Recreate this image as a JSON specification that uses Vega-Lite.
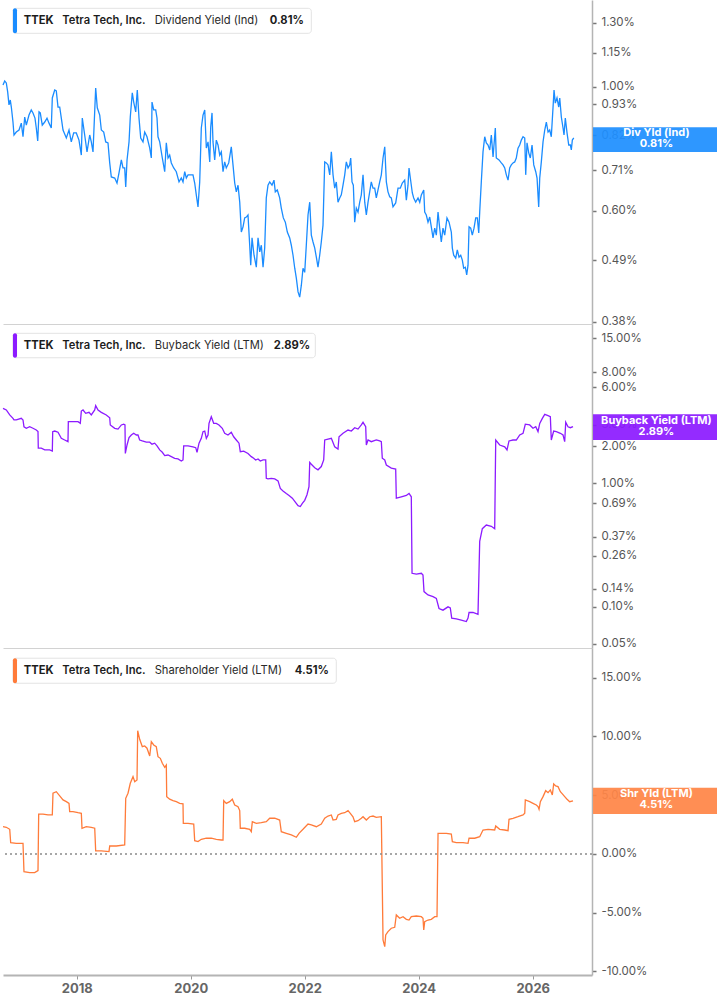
{
"$schema": "https://vega.github.io/schema/vega-lite/v6.json",
"padding": 0,
"background": "white",
"bounds": "flush",
"spacing": 0,
"config": {
  "view": {"stroke": null},
  "font": "Inter",
  "axis": {"grid": false},
  "axisY": {"domainColor": "#b4b4b4", "domainWidth": 1.5, "tickColor": "#777777", "tickSize": 4, "tickWidth": 1.5, "labelColor": "#555555", "labelFontSize": 11.5, "labelPadding": 5, "labelFont": "Inter"}
},
"datasets": {
"dividend": [
{"year":2016.707,"pct":1.007},{"year":2016.737,"pct":1.024},{"year":2016.765,"pct":1.016},{"year":2016.789,"pct":0.979},{"year":2016.812,"pct":0.928},{"year":2016.835,"pct":0.947},{"year":2016.853,"pct":0.920},{"year":2016.882,"pct":0.865},{"year":2016.900,"pct":0.820},{"year":2016.940,"pct":0.830},{"year":2016.988,"pct":0.837},{"year":2017.028,"pct":0.861},{"year":2017.058,"pct":0.814},{"year":2017.088,"pct":0.883},{"year":2017.116,"pct":0.854},{"year":2017.163,"pct":0.890},{"year":2017.203,"pct":0.909},{"year":2017.233,"pct":0.898},{"year":2017.268,"pct":0.879},{"year":2017.291,"pct":0.844},{"year":2017.316,"pct":0.800},{"year":2017.339,"pct":0.902},{"year":2017.361,"pct":0.898},{"year":2017.396,"pct":0.854},{"year":2017.439,"pct":0.865},{"year":2017.479,"pct":0.879},{"year":2017.514,"pct":0.861},{"year":2017.554,"pct":0.844},{"year":2017.572,"pct":0.955},{"year":2017.614,"pct":0.987},{"year":2017.642,"pct":0.983},{"year":2017.672,"pct":0.920},{"year":2017.702,"pct":0.920},{"year":2017.730,"pct":0.879},{"year":2017.760,"pct":0.837},{"year":2017.818,"pct":0.810},{"year":2017.865,"pct":0.837},{"year":2017.905,"pct":0.797},{"year":2017.947,"pct":0.827},{"year":2017.993,"pct":0.827},{"year":2018.040,"pct":0.803},{"year":2018.081,"pct":0.755},{"year":2018.098,"pct":0.879},{"year":2018.140,"pct":0.820},{"year":2018.181,"pct":0.765},{"year":2018.228,"pct":0.820},{"year":2018.256,"pct":0.797},{"year":2018.286,"pct":0.765},{"year":2018.333,"pct":0.995},{"year":2018.361,"pct":0.917},{"year":2018.404,"pct":0.890},{"year":2018.432,"pct":0.837},{"year":2018.474,"pct":0.830},{"year":2018.509,"pct":0.797},{"year":2018.549,"pct":0.794},{"year":2018.579,"pct":0.731},{"year":2018.607,"pct":0.690},{"year":2018.667,"pct":0.687},{"year":2018.707,"pct":0.673},{"year":2018.742,"pct":0.702},{"year":2018.783,"pct":0.740},{"year":2018.812,"pct":0.716},{"year":2018.842,"pct":0.716},{"year":2018.860,"pct":0.662},{"year":2018.883,"pct":0.740},{"year":2018.918,"pct":0.797},{"year":2018.940,"pct":0.883},{"year":2018.975,"pct":0.975},{"year":2019.000,"pct":0.939},{"year":2019.035,"pct":0.902},{"year":2019.063,"pct":0.987},{"year":2019.093,"pct":0.879},{"year":2019.123,"pct":0.810},{"year":2019.163,"pct":0.797},{"year":2019.193,"pct":0.830},{"year":2019.233,"pct":0.814},{"year":2019.281,"pct":0.777},{"year":2019.309,"pct":0.746},{"year":2019.321,"pct":0.939},{"year":2019.351,"pct":0.909},{"year":2019.386,"pct":0.909},{"year":2019.409,"pct":0.879},{"year":2019.426,"pct":0.814},{"year":2019.456,"pct":0.797},{"year":2019.502,"pct":0.746},{"year":2019.544,"pct":0.705},{"year":2019.572,"pct":0.794},{"year":2019.602,"pct":0.746},{"year":2019.631,"pct":0.755},{"year":2019.660,"pct":0.731},{"year":2019.702,"pct":0.716},{"year":2019.747,"pct":0.705},{"year":2019.795,"pct":0.676},{"year":2019.835,"pct":0.687},{"year":2019.865,"pct":0.676},{"year":2019.895,"pct":0.705},{"year":2019.923,"pct":0.687},{"year":2019.953,"pct":0.696},{"year":2019.993,"pct":0.696},{"year":2020.040,"pct":0.696},{"year":2020.070,"pct":0.673},{"year":2020.098,"pct":0.641},{"year":2020.128,"pct":0.610},{"year":2020.158,"pct":0.676},{"year":2020.186,"pct":0.844},{"year":2020.216,"pct":0.890},{"year":2020.246,"pct":0.909},{"year":2020.274,"pct":0.777},{"year":2020.304,"pct":0.797},{"year":2020.334,"pct":0.734},{"year":2020.351,"pct":0.847},{"year":2020.374,"pct":0.898},{"year":2020.391,"pct":0.797},{"year":2020.421,"pct":0.740},{"year":2020.449,"pct":0.803},{"year":2020.479,"pct":0.787},{"year":2020.509,"pct":0.755},{"year":2020.537,"pct":0.765},{"year":2020.567,"pct":0.705},{"year":2020.596,"pct":0.734},{"year":2020.624,"pct":0.716},{"year":2020.667,"pct":0.731},{"year":2020.695,"pct":0.762},{"year":2020.712,"pct":0.781},{"year":2020.742,"pct":0.725},{"year":2020.772,"pct":0.673},{"year":2020.800,"pct":0.649},{"year":2020.830,"pct":0.667},{"year":2020.860,"pct":0.622},{"year":2020.888,"pct":0.550},{"year":2020.918,"pct":0.562},{"year":2020.947,"pct":0.583},{"year":2020.976,"pct":0.585},{"year":2021.005,"pct":0.590},{"year":2021.035,"pct":0.521},{"year":2021.053,"pct":0.480},{"year":2021.076,"pct":0.537},{"year":2021.111,"pct":0.500},{"year":2021.151,"pct":0.476},{"year":2021.181,"pct":0.537},{"year":2021.211,"pct":0.507},{"year":2021.239,"pct":0.521},{"year":2021.269,"pct":0.476},{"year":2021.298,"pct":0.515},{"year":2021.326,"pct":0.633},{"year":2021.356,"pct":0.667},{"year":2021.386,"pct":0.676},{"year":2021.426,"pct":0.667},{"year":2021.461,"pct":0.681},{"year":2021.484,"pct":0.649},{"year":2021.519,"pct":0.654},{"year":2021.561,"pct":0.633},{"year":2021.589,"pct":0.607},{"year":2021.625,"pct":0.583},{"year":2021.660,"pct":0.573},{"year":2021.695,"pct":0.550},{"year":2021.737,"pct":0.537},{"year":2021.765,"pct":0.521},{"year":2021.795,"pct":0.500},{"year":2021.825,"pct":0.474},{"year":2021.853,"pct":0.455},{"year":2021.883,"pct":0.430},{"year":2021.912,"pct":0.421},{"year":2021.941,"pct":0.442},{"year":2021.970,"pct":0.474},{"year":2022.000,"pct":0.466},{"year":2022.028,"pct":0.521},{"year":2022.058,"pct":0.590},{"year":2022.088,"pct":0.622},{"year":2022.116,"pct":0.543},{"year":2022.146,"pct":0.528},{"year":2022.176,"pct":0.515},{"year":2022.204,"pct":0.496},{"year":2022.233,"pct":0.476},{"year":2022.263,"pct":0.500},{"year":2022.291,"pct":0.528},{"year":2022.321,"pct":0.566},{"year":2022.351,"pct":0.734},{"year":2022.379,"pct":0.731},{"year":2022.409,"pct":0.725},{"year":2022.439,"pct":0.696},{"year":2022.467,"pct":0.765},{"year":2022.497,"pct":0.696},{"year":2022.526,"pct":0.659},{"year":2022.554,"pct":0.676},{"year":2022.584,"pct":0.622},{"year":2022.614,"pct":0.633},{"year":2022.642,"pct":0.641},{"year":2022.672,"pct":0.667},{"year":2022.702,"pct":0.696},{"year":2022.730,"pct":0.734},{"year":2022.760,"pct":0.716},{"year":2022.789,"pct":0.725},{"year":2022.807,"pct":0.746},{"year":2022.830,"pct":0.676},{"year":2022.853,"pct":0.667},{"year":2022.877,"pct":0.573},{"year":2022.905,"pct":0.607},{"year":2022.935,"pct":0.597},{"year":2022.965,"pct":0.622},{"year":2022.993,"pct":0.641},{"year":2023.023,"pct":0.696},{"year":2023.053,"pct":0.622},{"year":2023.081,"pct":0.590},{"year":2023.111,"pct":0.622},{"year":2023.140,"pct":0.649},{"year":2023.168,"pct":0.676},{"year":2023.198,"pct":0.659},{"year":2023.228,"pct":0.659},{"year":2023.256,"pct":0.633},{"year":2023.286,"pct":0.654},{"year":2023.316,"pct":0.676},{"year":2023.344,"pct":0.696},{"year":2023.374,"pct":0.746},{"year":2023.404,"pct":0.781},{"year":2023.432,"pct":0.676},{"year":2023.461,"pct":0.649},{"year":2023.491,"pct":0.636},{"year":2023.519,"pct":0.633},{"year":2023.549,"pct":0.610},{"year":2023.596,"pct":0.620},{"year":2023.637,"pct":0.659},{"year":2023.677,"pct":0.659},{"year":2023.712,"pct":0.673},{"year":2023.754,"pct":0.681},{"year":2023.783,"pct":0.627},{"year":2023.812,"pct":0.667},{"year":2023.830,"pct":0.716},{"year":2023.853,"pct":0.687},{"year":2023.888,"pct":0.646},{"year":2023.912,"pct":0.633},{"year":2023.947,"pct":0.622},{"year":2023.988,"pct":0.633},{"year":2024.018,"pct":0.622},{"year":2024.046,"pct":0.641},{"year":2024.088,"pct":0.654},{"year":2024.105,"pct":0.597},{"year":2024.133,"pct":0.590},{"year":2024.163,"pct":0.573},{"year":2024.193,"pct":0.585},{"year":2024.221,"pct":0.562},{"year":2024.251,"pct":0.537},{"year":2024.281,"pct":0.559},{"year":2024.309,"pct":0.543},{"year":2024.339,"pct":0.597},{"year":2024.368,"pct":0.559},{"year":2024.396,"pct":0.528},{"year":2024.426,"pct":0.559},{"year":2024.456,"pct":0.543},{"year":2024.496,"pct":0.583},{"year":2024.532,"pct":0.573},{"year":2024.572,"pct":0.550},{"year":2024.590,"pct":0.515},{"year":2024.614,"pct":0.500},{"year":2024.649,"pct":0.494},{"year":2024.677,"pct":0.511},{"year":2024.707,"pct":0.496},{"year":2024.737,"pct":0.500},{"year":2024.765,"pct":0.490},{"year":2024.789,"pct":0.474},{"year":2024.818,"pct":0.476},{"year":2024.842,"pct":0.461},{"year":2024.865,"pct":0.480},{"year":2024.883,"pct":0.562},{"year":2024.912,"pct":0.559},{"year":2024.940,"pct":0.543},{"year":2024.970,"pct":0.559},{"year":2025.000,"pct":0.583},{"year":2025.028,"pct":0.583},{"year":2025.053,"pct":0.548},{"year":2025.070,"pct":0.597},{"year":2025.098,"pct":0.676},{"year":2025.128,"pct":0.765},{"year":2025.158,"pct":0.814},{"year":2025.186,"pct":0.794},{"year":2025.216,"pct":0.787},{"year":2025.246,"pct":0.771},{"year":2025.274,"pct":0.820},{"year":2025.304,"pct":0.749},{"year":2025.344,"pct":0.844},{"year":2025.361,"pct":0.746},{"year":2025.409,"pct":0.740},{"year":2025.449,"pct":0.731},{"year":2025.479,"pct":0.725},{"year":2025.509,"pct":0.716},{"year":2025.537,"pct":0.696},{"year":2025.567,"pct":0.681},{"year":2025.596,"pct":0.716},{"year":2025.624,"pct":0.725},{"year":2025.654,"pct":0.731},{"year":2025.684,"pct":0.734},{"year":2025.712,"pct":0.746},{"year":2025.742,"pct":0.777},{"year":2025.772,"pct":0.787},{"year":2025.800,"pct":0.803},{"year":2025.830,"pct":0.814},{"year":2025.860,"pct":0.810},{"year":2025.877,"pct":0.696},{"year":2025.900,"pct":0.794},{"year":2025.930,"pct":0.762},{"year":2025.958,"pct":0.746},{"year":2025.988,"pct":0.787},{"year":2026.018,"pct":0.725},{"year":2026.053,"pct":0.705},{"year":2026.076,"pct":0.687},{"year":2026.105,"pct":0.610},{"year":2026.123,"pct":0.687},{"year":2026.151,"pct":0.734},{"year":2026.181,"pct":0.797},{"year":2026.211,"pct":0.837},{"year":2026.239,"pct":0.865},{"year":2026.269,"pct":0.830},{"year":2026.298,"pct":0.837},{"year":2026.326,"pct":0.814},{"year":2026.356,"pct":0.917},{"year":2026.374,"pct":0.987},{"year":2026.396,"pct":0.935},{"year":2026.426,"pct":0.955},{"year":2026.456,"pct":0.920},{"year":2026.474,"pct":0.955},{"year":2026.502,"pct":0.883},{"year":2026.532,"pct":0.844},{"year":2026.549,"pct":0.820},{"year":2026.572,"pct":0.879},{"year":2026.602,"pct":0.827},{"year":2026.632,"pct":0.787},{"year":2026.660,"pct":0.787},{"year":2026.677,"pct":0.771},{"year":2026.695,"pct":0.803},{"year":2026.720,"pct":0.810}
],
"buyback": [
{"year":2016.707,"pct":4.06},{"year":2016.765,"pct":3.94},{"year":2016.825,"pct":3.59},{"year":2016.882,"pct":3.37},{"year":2016.900,"pct":3.27},{"year":2016.940,"pct":3.27},{"year":2017.028,"pct":3.37},{"year":2017.058,"pct":3.27},{"year":2017.075,"pct":2.88},{"year":2017.116,"pct":2.80},{"year":2017.175,"pct":2.88},{"year":2017.233,"pct":2.80},{"year":2017.291,"pct":2.71},{"year":2017.321,"pct":2.63},{"year":2017.326,"pct":1.93},{"year":2017.379,"pct":1.93},{"year":2017.439,"pct":1.87},{"year":2017.526,"pct":1.87},{"year":2017.572,"pct":1.83},{"year":2017.579,"pct":2.63},{"year":2017.614,"pct":2.66},{"year":2017.672,"pct":2.60},{"year":2017.730,"pct":2.32},{"year":2017.789,"pct":2.25},{"year":2017.847,"pct":2.18},{"year":2017.853,"pct":3.17},{"year":2017.935,"pct":3.17},{"year":2018.023,"pct":3.17},{"year":2018.063,"pct":3.07},{"year":2018.081,"pct":3.86},{"year":2018.111,"pct":3.94},{"year":2018.158,"pct":3.70},{"year":2018.216,"pct":3.77},{"year":2018.256,"pct":3.59},{"year":2018.316,"pct":3.94},{"year":2018.333,"pct":4.27},{"year":2018.374,"pct":3.94},{"year":2018.432,"pct":3.77},{"year":2018.519,"pct":3.59},{"year":2018.579,"pct":3.41},{"year":2018.589,"pct":2.98},{"year":2018.667,"pct":2.80},{"year":2018.725,"pct":2.76},{"year":2018.783,"pct":2.98},{"year":2018.825,"pct":3.02},{"year":2018.847,"pct":2.98},{"year":2018.853,"pct":1.75},{"year":2018.883,"pct":2.05},{"year":2018.918,"pct":2.35},{"year":2018.958,"pct":2.47},{"year":2019.000,"pct":2.55},{"year":2019.046,"pct":2.47},{"year":2019.075,"pct":2.47},{"year":2019.105,"pct":2.25},{"year":2019.151,"pct":2.21},{"year":2019.221,"pct":2.16},{"year":2019.281,"pct":2.16},{"year":2019.321,"pct":2.08},{"year":2019.368,"pct":2.12},{"year":2019.409,"pct":2.02},{"year":2019.456,"pct":1.87},{"year":2019.502,"pct":1.79},{"year":2019.544,"pct":1.68},{"year":2019.602,"pct":1.70},{"year":2019.660,"pct":1.65},{"year":2019.719,"pct":1.60},{"year":2019.777,"pct":1.58},{"year":2019.835,"pct":1.52},{"year":2019.865,"pct":1.55},{"year":2019.877,"pct":2.02},{"year":2019.953,"pct":2.02},{"year":2020.040,"pct":1.98},{"year":2020.088,"pct":1.95},{"year":2020.111,"pct":1.79},{"year":2020.146,"pct":2.12},{"year":2020.186,"pct":2.32},{"year":2020.216,"pct":2.63},{"year":2020.246,"pct":2.66},{"year":2020.274,"pct":2.32},{"year":2020.304,"pct":2.47},{"year":2020.321,"pct":3.07},{"year":2020.361,"pct":3.47},{"year":2020.403,"pct":3.07},{"year":2020.449,"pct":3.07},{"year":2020.496,"pct":2.98},{"year":2020.554,"pct":2.80},{"year":2020.596,"pct":2.55},{"year":2020.654,"pct":2.47},{"year":2020.712,"pct":2.60},{"year":2020.754,"pct":2.39},{"year":2020.800,"pct":2.25},{"year":2020.847,"pct":2.12},{"year":2020.870,"pct":1.81},{"year":2020.930,"pct":1.83},{"year":2021.005,"pct":1.75},{"year":2021.063,"pct":1.65},{"year":2021.105,"pct":1.60},{"year":2021.140,"pct":1.55},{"year":2021.181,"pct":1.58},{"year":2021.221,"pct":1.52},{"year":2021.269,"pct":1.55},{"year":2021.316,"pct":1.55},{"year":2021.326,"pct":1.10},{"year":2021.356,"pct":1.09},{"year":2021.414,"pct":1.10},{"year":2021.474,"pct":1.09},{"year":2021.532,"pct":1.05},{"year":2021.572,"pct":0.91},{"year":2021.619,"pct":0.87},{"year":2021.677,"pct":0.83},{"year":2021.725,"pct":0.80},{"year":2021.783,"pct":0.76},{"year":2021.842,"pct":0.70},{"year":2021.883,"pct":0.66},{"year":2021.923,"pct":0.65},{"year":2021.958,"pct":0.69},{"year":2022.000,"pct":0.73},{"year":2022.040,"pct":0.81},{"year":2022.075,"pct":0.94},{"year":2022.088,"pct":1.48},{"year":2022.116,"pct":1.43},{"year":2022.176,"pct":1.34},{"year":2022.233,"pct":1.29},{"year":2022.291,"pct":1.37},{"year":2022.333,"pct":1.55},{"year":2022.351,"pct":2.25},{"year":2022.409,"pct":2.29},{"year":2022.467,"pct":2.32},{"year":2022.526,"pct":1.98},{"year":2022.584,"pct":1.90},{"year":2022.602,"pct":2.39},{"year":2022.672,"pct":2.55},{"year":2022.760,"pct":2.71},{"year":2022.818,"pct":2.66},{"year":2022.877,"pct":2.83},{"year":2022.935,"pct":2.76},{"year":2022.993,"pct":2.98},{"year":2023.023,"pct":3.13},{"year":2023.070,"pct":2.88},{"year":2023.081,"pct":2.05},{"year":2023.111,"pct":2.25},{"year":2023.168,"pct":2.18},{"year":2023.256,"pct":2.25},{"year":2023.316,"pct":2.21},{"year":2023.344,"pct":2.18},{"year":2023.361,"pct":1.60},{"year":2023.404,"pct":1.55},{"year":2023.432,"pct":1.41},{"year":2023.519,"pct":1.33},{"year":2023.596,"pct":1.31},{"year":2023.607,"pct":0.76},{"year":2023.695,"pct":0.78},{"year":2023.783,"pct":0.80},{"year":2023.830,"pct":0.83},{"year":2023.870,"pct":0.78},{"year":2023.883,"pct":0.187},{"year":2023.958,"pct":0.184},{"year":2024.046,"pct":0.187},{"year":2024.075,"pct":0.181},{"year":2024.093,"pct":0.133},{"year":2024.163,"pct":0.125},{"year":2024.251,"pct":0.121},{"year":2024.309,"pct":0.117},{"year":2024.356,"pct":0.097},{"year":2024.426,"pct":0.094},{"year":2024.514,"pct":0.100},{"year":2024.554,"pct":0.098},{"year":2024.579,"pct":0.081},{"year":2024.660,"pct":0.080},{"year":2024.747,"pct":0.078},{"year":2024.835,"pct":0.076},{"year":2024.865,"pct":0.081},{"year":2024.883,"pct":0.090},{"year":2024.953,"pct":0.090},{"year":2025.040,"pct":0.087},{"year":2025.070,"pct":0.34},{"year":2025.116,"pct":0.43},{"year":2025.186,"pct":0.46},{"year":2025.274,"pct":0.45},{"year":2025.333,"pct":0.43},{"year":2025.351,"pct":2.25},{"year":2025.421,"pct":2.05},{"year":2025.509,"pct":1.98},{"year":2025.549,"pct":1.87},{"year":2025.584,"pct":2.21},{"year":2025.654,"pct":2.25},{"year":2025.712,"pct":2.25},{"year":2025.772,"pct":2.47},{"year":2025.830,"pct":2.55},{"year":2025.870,"pct":3.02},{"year":2025.947,"pct":2.98},{"year":2026.005,"pct":2.80},{"year":2026.053,"pct":2.88},{"year":2026.093,"pct":2.63},{"year":2026.123,"pct":3.07},{"year":2026.169,"pct":3.37},{"year":2026.211,"pct":3.63},{"year":2026.269,"pct":3.54},{"year":2026.309,"pct":3.47},{"year":2026.326,"pct":2.25},{"year":2026.368,"pct":2.66},{"year":2026.414,"pct":2.63},{"year":2026.485,"pct":2.55},{"year":2026.532,"pct":2.47},{"year":2026.561,"pct":2.18},{"year":2026.579,"pct":3.13},{"year":2026.619,"pct":2.88},{"year":2026.660,"pct":2.83},{"year":2026.707,"pct":2.89}
],
"shareholder": [
{"year":2016.707,"pct":2.32},{"year":2016.765,"pct":2.27},{"year":2016.825,"pct":2.10},{"year":2016.842,"pct":0.96},{"year":2016.940,"pct":0.91},{"year":2017.058,"pct":0.91},{"year":2017.075,"pct":-1.51},{"year":2017.175,"pct":-1.59},{"year":2017.263,"pct":-1.59},{"year":2017.321,"pct":-1.42},{"year":2017.333,"pct":3.40},{"year":2017.409,"pct":3.40},{"year":2017.496,"pct":3.32},{"year":2017.572,"pct":3.32},{"year":2017.584,"pct":5.17},{"year":2017.642,"pct":5.30},{"year":2017.702,"pct":4.94},{"year":2017.760,"pct":4.60},{"year":2017.818,"pct":4.45},{"year":2017.865,"pct":4.31},{"year":2017.877,"pct":3.60},{"year":2017.935,"pct":3.60},{"year":2018.023,"pct":3.51},{"year":2018.081,"pct":3.46},{"year":2018.093,"pct":2.19},{"year":2018.168,"pct":2.32},{"year":2018.256,"pct":2.27},{"year":2018.316,"pct":2.19},{"year":2018.333,"pct":0.26},{"year":2018.432,"pct":0.26},{"year":2018.567,"pct":0.20},{"year":2018.579,"pct":0.68},{"year":2018.695,"pct":0.68},{"year":2018.842,"pct":0.77},{"year":2018.860,"pct":4.74},{"year":2018.900,"pct":5.17},{"year":2018.940,"pct":6.02},{"year":2018.988,"pct":6.58},{"year":2019.018,"pct":6.15},{"year":2019.058,"pct":6.30},{"year":2019.070,"pct":10.49},{"year":2019.105,"pct":9.76},{"year":2019.151,"pct":9.13},{"year":2019.193,"pct":9.19},{"year":2019.233,"pct":9.00},{"year":2019.281,"pct":8.34},{"year":2019.309,"pct":9.56},{"year":2019.351,"pct":9.28},{"year":2019.396,"pct":9.13},{"year":2019.426,"pct":8.28},{"year":2019.467,"pct":8.14},{"year":2019.502,"pct":7.72},{"year":2019.544,"pct":7.38},{"year":2019.572,"pct":7.57},{"year":2019.579,"pct":4.88},{"year":2019.631,"pct":4.66},{"year":2019.689,"pct":4.54},{"year":2019.747,"pct":4.45},{"year":2019.807,"pct":4.31},{"year":2019.865,"pct":4.26},{"year":2019.870,"pct":2.61},{"year":2019.953,"pct":2.61},{"year":2020.053,"pct":2.55},{"year":2020.070,"pct":1.13},{"year":2020.128,"pct":1.05},{"year":2020.186,"pct":1.25},{"year":2020.274,"pct":1.34},{"year":2020.361,"pct":1.34},{"year":2020.449,"pct":1.25},{"year":2020.537,"pct":1.19},{"year":2020.567,"pct":1.19},{"year":2020.579,"pct":4.54},{"year":2020.624,"pct":4.31},{"year":2020.684,"pct":4.45},{"year":2020.730,"pct":4.66},{"year":2020.772,"pct":4.17},{"year":2020.830,"pct":4.03},{"year":2020.860,"pct":3.69},{"year":2020.870,"pct":2.19},{"year":2020.947,"pct":2.19},{"year":2021.035,"pct":2.10},{"year":2021.063,"pct":1.90},{"year":2021.081,"pct":2.75},{"year":2021.151,"pct":2.61},{"year":2021.239,"pct":2.66},{"year":2021.326,"pct":2.75},{"year":2021.386,"pct":3.04},{"year":2021.474,"pct":3.04},{"year":2021.561,"pct":2.89},{"year":2021.589,"pct":1.90},{"year":2021.677,"pct":1.76},{"year":2021.765,"pct":1.62},{"year":2021.853,"pct":1.42},{"year":2021.900,"pct":1.76},{"year":2021.970,"pct":2.10},{"year":2022.058,"pct":2.55},{"year":2022.116,"pct":2.47},{"year":2022.204,"pct":2.32},{"year":2022.291,"pct":2.55},{"year":2022.351,"pct":3.04},{"year":2022.409,"pct":3.23},{"year":2022.467,"pct":3.32},{"year":2022.497,"pct":2.89},{"year":2022.554,"pct":2.95},{"year":2022.584,"pct":3.32},{"year":2022.642,"pct":3.46},{"year":2022.702,"pct":3.51},{"year":2022.760,"pct":3.69},{"year":2022.800,"pct":3.46},{"year":2022.847,"pct":3.17},{"year":2022.877,"pct":2.75},{"year":2022.935,"pct":2.83},{"year":2022.993,"pct":3.04},{"year":2023.023,"pct":3.17},{"year":2023.081,"pct":2.89},{"year":2023.140,"pct":3.17},{"year":2023.198,"pct":3.23},{"year":2023.256,"pct":3.12},{"year":2023.344,"pct":3.17},{"year":2023.374,"pct":-7.32},{"year":2023.404,"pct":-7.89},{"year":2023.421,"pct":-6.89},{"year":2023.461,"pct":-6.61},{"year":2023.519,"pct":-6.32},{"year":2023.579,"pct":-6.24},{"year":2023.607,"pct":-5.19},{"year":2023.666,"pct":-5.47},{"year":2023.725,"pct":-5.34},{"year":2023.783,"pct":-5.56},{"year":2023.830,"pct":-5.62},{"year":2023.870,"pct":-5.34},{"year":2023.958,"pct":-5.28},{"year":2024.046,"pct":-5.34},{"year":2024.075,"pct":-5.47},{"year":2024.088,"pct":-6.47},{"year":2024.105,"pct":-5.76},{"year":2024.163,"pct":-5.62},{"year":2024.221,"pct":-5.56},{"year":2024.281,"pct":-5.34},{"year":2024.321,"pct":-5.34},{"year":2024.339,"pct":1.76},{"year":2024.397,"pct":1.76},{"year":2024.485,"pct":1.76},{"year":2024.572,"pct":1.70},{"year":2024.590,"pct":1.05},{"year":2024.660,"pct":0.96},{"year":2024.777,"pct":0.96},{"year":2024.865,"pct":0.91},{"year":2024.883,"pct":1.34},{"year":2024.982,"pct":1.34},{"year":2025.070,"pct":1.47},{"year":2025.128,"pct":2.04},{"year":2025.216,"pct":2.10},{"year":2025.333,"pct":2.04},{"year":2025.351,"pct":2.38},{"year":2025.421,"pct":2.10},{"year":2025.509,"pct":2.04},{"year":2025.567,"pct":1.98},{"year":2025.584,"pct":2.95},{"year":2025.654,"pct":3.04},{"year":2025.742,"pct":3.17},{"year":2025.830,"pct":3.32},{"year":2025.860,"pct":3.46},{"year":2025.870,"pct":4.60},{"year":2025.947,"pct":4.45},{"year":2026.005,"pct":4.31},{"year":2026.063,"pct":4.17},{"year":2026.093,"pct":4.03},{"year":2026.111,"pct":3.80},{"year":2026.134,"pct":4.45},{"year":2026.181,"pct":4.88},{"year":2026.228,"pct":5.39},{"year":2026.269,"pct":5.22},{"year":2026.309,"pct":5.45},{"year":2026.344,"pct":5.02},{"year":2026.368,"pct":5.96},{"year":2026.403,"pct":5.79},{"year":2026.444,"pct":5.73},{"year":2026.485,"pct":5.30},{"year":2026.520,"pct":5.11},{"year":2026.561,"pct":4.88},{"year":2026.602,"pct":4.66},{"year":2026.649,"pct":4.45},{"year":2026.707,"pct":4.51}
]
},
"vconcat": [
{
"width": 589, "height": 324,
"layer": [
 {"data": {"name": "dividend"},
  "mark": {"type": "line", "color": "#1a8cff", "strokeWidth": 1.3},
  "encoding": {
   "x": {"field": "year", "type": "quantitative", "title": null, "scale": {"domain": [2016.707, 2027.04], "nice": false, "zero": false}, "axis": {"labels": false, "ticks": false, "domainColor": "#d2d2d2", "domainWidth": 1}},
   "y": {"field": "pct", "type": "quantitative", "title": null, "scale": {"type": "log", "domain": [0.3768, 1.429], "nice": false}, "axis": {"orient": "right", "values": [0.38, 0.49, 0.6, 0.71, 0.82, 0.93, 1, 1.15, 1.3], "labelExpr": "format(datum.value, '.2f') + '%'"}}
  }},
 {"data": {"values": [{"ticker": "TTEK", "company": "Tetra Tech, Inc.", "metric": "Dividend Yield (Ind)", "last": "0.81%", "tag": "Div Yld (Ind)\n0.81%"}]},
  "layer": [
   {"mark": {"type": "rect", "fill": "white", "stroke": "#e3e3e3", "strokeWidth": 1, "cornerRadius": 3},
    "encoding": {"x": {"datum": 2016.882, "type": "quantitative", "title": null}, "x2": {"datum": 2022.116}, "y": {"datum": 1.381, "type": "quantitative", "title": null}, "y2": {"datum": 1.246}}},
   {"mark": {"type": "rect", "fill": "#1a8cff", "cornerRadius": 2},
    "encoding": {"x": {"datum": 2016.882, "type": "quantitative", "title": null}, "x2": {"datum": 2016.953}, "y": {"datum": 1.381, "type": "quantitative", "title": null}, "y2": {"datum": 1.246}}},
   {"mark": {"type": "text", "align": "left", "baseline": "middle", "fontSize": 11.2, "fontWeight": 700, "color": "#1c1c1c"},
    "encoding": {"x": {"datum": 2017.07, "type": "quantitative", "title": null}, "y": {"datum": 1.312, "type": "quantitative", "title": null}, "text": {"field": "ticker"}}},
   {"mark": {"type": "text", "align": "left", "baseline": "middle", "fontSize": 11.2, "fontWeight": 600, "color": "#1c1c1c"},
    "encoding": {"x": {"datum": 2017.747, "type": "quantitative", "title": null}, "y": {"datum": 1.312, "type": "quantitative", "title": null}, "text": {"field": "company"}}},
   {"mark": {"type": "text", "align": "left", "baseline": "middle", "fontSize": 11.2, "fontWeight": 400, "color": "#2a2a2a"},
    "encoding": {"x": {"datum": 2019.368, "type": "quantitative", "title": null}, "y": {"datum": 1.312, "type": "quantitative", "title": null}, "text": {"field": "metric"}}},
   {"mark": {"type": "text", "align": "left", "baseline": "middle", "fontSize": 11.2, "fontWeight": 700, "color": "#1c1c1c"},
    "encoding": {"x": {"datum": 2021.386, "type": "quantitative", "title": null}, "y": {"datum": 1.312, "type": "quantitative", "title": null}, "text": {"field": "last"}}},
   {"mark": {"type": "rect", "fill": "#1e8fff", "fillOpacity": 0.93},
    "encoding": {"x": {"datum": 2027.058, "type": "quantitative", "title": null}, "x2": {"datum": 2029.286}, "y": {"datum": 0.847, "type": "quantitative", "title": null}, "y2": {"datum": 0.7645}}},
   {"mark": {"type": "text", "align": "center", "baseline": "middle", "fontSize": 11, "fontWeight": 700, "color": "white", "lineBreak": "\n", "lineHeight": 11},
    "encoding": {"x": {"datum": 2028.17, "type": "quantitative", "title": null}, "y": {"datum": 0.826, "type": "quantitative", "title": null}, "text": {"field": "tag"}}}
  ]}
]
},
{
"width": 589, "height": 324,
"layer": [
 {"data": {"name": "buyback"},
  "mark": {"type": "line", "color": "#8c1bff", "strokeWidth": 1.3},
  "encoding": {
   "x": {"field": "year", "type": "quantitative", "title": null, "scale": {"domain": [2016.707, 2027.04], "nice": false, "zero": false}, "axis": {"labels": false, "ticks": false, "domainColor": "#d2d2d2", "domainWidth": 1}},
   "y": {"field": "pct", "type": "quantitative", "title": null, "scale": {"type": "log", "domain": [0.0464, 19.6], "nice": false}, "axis": {"orient": "right", "values": [0.05, 0.1, 0.14, 0.26, 0.37, 0.69, 1, 2, 3, 6, 8, 15], "labelExpr": "format(datum.value, '.2f') + '%'"}}
  }},
 {"data": {"values": [{"ticker": "TTEK", "company": "Tetra Tech, Inc.", "metric": "Buyback Yield (LTM)", "last": "2.89%", "tag": "Buyback Yield (LTM)\n2.89%"}]},
  "layer": [
   {"mark": {"type": "rect", "fill": "white", "stroke": "#e3e3e3", "strokeWidth": 1, "cornerRadius": 3},
    "encoding": {"x": {"datum": 2016.882, "type": "quantitative", "title": null}, "x2": {"datum": 2022.186}, "y": {"datum": 16.47, "type": "quantitative", "title": null}, "y2": {"datum": 10.44}}},
   {"mark": {"type": "rect", "fill": "#8c1bff", "cornerRadius": 2},
    "encoding": {"x": {"datum": 2016.882, "type": "quantitative", "title": null}, "x2": {"datum": 2016.953}, "y": {"datum": 16.47, "type": "quantitative", "title": null}, "y2": {"datum": 10.44}}},
   {"mark": {"type": "text", "align": "left", "baseline": "middle", "fontSize": 11.2, "fontWeight": 700, "color": "#1c1c1c"},
    "encoding": {"x": {"datum": 2017.07, "type": "quantitative", "title": null}, "y": {"datum": 12.99, "type": "quantitative", "title": null}, "text": {"field": "ticker"}}},
   {"mark": {"type": "text", "align": "left", "baseline": "middle", "fontSize": 11.2, "fontWeight": 600, "color": "#1c1c1c"},
    "encoding": {"x": {"datum": 2017.747, "type": "quantitative", "title": null}, "y": {"datum": 12.99, "type": "quantitative", "title": null}, "text": {"field": "company"}}},
   {"mark": {"type": "text", "align": "left", "baseline": "middle", "fontSize": 11.2, "fontWeight": 400, "color": "#2a2a2a"},
    "encoding": {"x": {"datum": 2019.368, "type": "quantitative", "title": null}, "y": {"datum": 12.99, "type": "quantitative", "title": null}, "text": {"field": "metric"}}},
   {"mark": {"type": "text", "align": "left", "baseline": "middle", "fontSize": 11.2, "fontWeight": 700, "color": "#1c1c1c"},
    "encoding": {"x": {"datum": 2021.456, "type": "quantitative", "title": null}, "y": {"datum": 12.99, "type": "quantitative", "title": null}, "text": {"field": "last"}}},
   {"mark": {"type": "rect", "fill": "#8c1bff", "fillOpacity": 0.93},
    "encoding": {"x": {"datum": 2027.058, "type": "quantitative", "title": null}, "x2": {"datum": 2029.286}, "y": {"datum": 3.63, "type": "quantitative", "title": null}, "y2": {"datum": 2.25}}},
   {"mark": {"type": "text", "align": "center", "baseline": "middle", "fontSize": 11, "fontWeight": 700, "color": "white", "lineBreak": "\n", "lineHeight": 11},
    "encoding": {"x": {"datum": 2028.17, "type": "quantitative", "title": null}, "y": {"datum": 3.21, "type": "quantitative", "title": null}, "text": {"field": "tag"}}}
  ]}
]
},
{
"width": 589, "height": 327,
"layer": [
 {"data": {"name": "shareholder"},
  "mark": {"type": "line", "color": "#ff7b3a", "strokeWidth": 1.3},
  "encoding": {
   "x": {"field": "year", "type": "quantitative", "title": null, "scale": {"domain": [2016.707, 2027.04], "nice": false, "zero": false}, "axis": {"values": [2018, 2020, 2022, 2024, 2026], "format": "d", "labelFontWeight": 700, "labelFontSize": 13, "labelColor": "#666666", "labelFont": "Inter", "tickColor": "#999999", "tickSize": 4, "domainColor": "#b4b4b4", "domainWidth": 2, "labelPadding": 3}},
   "y": {"field": "pct", "type": "quantitative", "title": null, "scale": {"domain": [-10.3, 17.53], "nice": false, "zero": false}, "axis": {"orient": "right", "values": [-10, -5, 0, 5, 10, 15], "labelExpr": "(datum.value < 0 ? '-' : '') + format(abs(datum.value), '.2f') + '%'"}}
  }},
 {"data": {"values": [{"ticker": "TTEK", "company": "Tetra Tech, Inc.", "metric": "Shareholder Yield (LTM)", "last": "4.51%", "tag": "Shr Yld (LTM)\n4.51%"}]},
  "layer": [
   {"mark": {"type": "rule", "color": "#8a8a8a", "strokeWidth": 1.5, "strokeDash": [2, 3]},
    "encoding": {"y": {"datum": 0, "type": "quantitative", "title": null}}},
   {"mark": {"type": "rect", "fill": "white", "stroke": "#e3e3e3", "strokeWidth": 1, "cornerRadius": 3},
    "encoding": {"x": {"datum": 2016.882, "type": "quantitative", "title": null}, "x2": {"datum": 2022.554}, "y": {"datum": 16.66, "type": "quantitative", "title": null}, "y2": {"datum": 14.53}}},
   {"mark": {"type": "rect", "fill": "#ff7b3a", "cornerRadius": 2},
    "encoding": {"x": {"datum": 2016.882, "type": "quantitative", "title": null}, "x2": {"datum": 2016.953}, "y": {"datum": 16.66, "type": "quantitative", "title": null}, "y2": {"datum": 14.53}}},
   {"mark": {"type": "text", "align": "left", "baseline": "middle", "fontSize": 11.2, "fontWeight": 700, "color": "#1c1c1c"},
    "encoding": {"x": {"datum": 2017.07, "type": "quantitative", "title": null}, "y": {"datum": 15.59, "type": "quantitative", "title": null}, "text": {"field": "ticker"}}},
   {"mark": {"type": "text", "align": "left", "baseline": "middle", "fontSize": 11.2, "fontWeight": 600, "color": "#1c1c1c"},
    "encoding": {"x": {"datum": 2017.747, "type": "quantitative", "title": null}, "y": {"datum": 15.59, "type": "quantitative", "title": null}, "text": {"field": "company"}}},
   {"mark": {"type": "text", "align": "left", "baseline": "middle", "fontSize": 11.2, "fontWeight": 400, "color": "#2a2a2a"},
    "encoding": {"x": {"datum": 2019.368, "type": "quantitative", "title": null}, "y": {"datum": 15.59, "type": "quantitative", "title": null}, "text": {"field": "metric"}}},
   {"mark": {"type": "text", "align": "left", "baseline": "middle", "fontSize": 11.2, "fontWeight": 700, "color": "#1c1c1c"},
    "encoding": {"x": {"datum": 2021.825, "type": "quantitative", "title": null}, "y": {"datum": 15.59, "type": "quantitative", "title": null}, "text": {"field": "last"}}},
   {"mark": {"type": "rect", "fill": "#ff8547", "fillOpacity": 0.93},
    "encoding": {"x": {"datum": 2027.058, "type": "quantitative", "title": null}, "x2": {"datum": 2029.286}, "y": {"datum": 5.64, "type": "quantitative", "title": null}, "y2": {"datum": 3.40}}},
   {"mark": {"type": "text", "align": "center", "baseline": "middle", "fontSize": 11, "fontWeight": 700, "color": "white", "lineBreak": "\n", "lineHeight": 11},
    "encoding": {"x": {"datum": 2028.17, "type": "quantitative", "title": null}, "y": {"datum": 5.08, "type": "quantitative", "title": null}, "text": {"field": "tag"}}}
  ]}
]
}
]
}
